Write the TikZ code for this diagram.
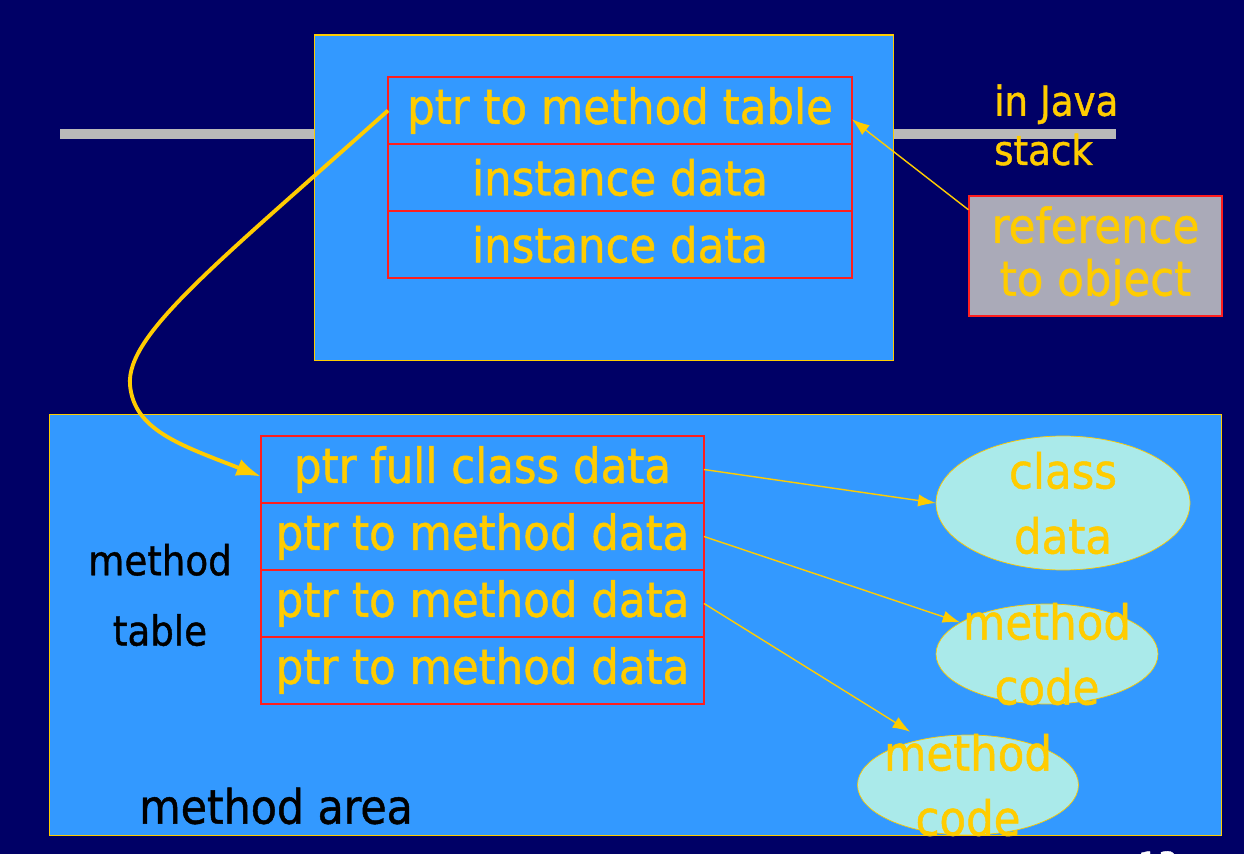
\documentclass[tikz,border=0pt]{standalone}
\usepackage{fontspec}
\setmainfont{DejaVu Sans}[FakeStretch=0.9,FakeBold=1]
\usetikzlibrary{positioning,arrows.meta,shapes.geometric}
\definecolor{fond}{RGB}{0,0,102}
\definecolor{bleu}{RGB}{51,153,255}
\definecolor{jaune}{RGB}{255,204,0}
\definecolor{rouge}{RGB}{255,30,30}
\definecolor{gris}{RGB}{170,170,184}
\definecolor{cyanpale}{RGB}{170,234,234}
\definecolor{barre}{RGB}{185,185,185}

\begin{document}
\begin{tikzpicture}[
    x=0.02cm, y=-0.02cm,
    >={Latex[length=10pt,width=7pt]},
    zone/.style={
      draw=jaune,
      fill=bleu,
      line width=0.6pt
    },
    case/.style={
      draw=rouge,
      line width=0.7pt,
      outer sep=0pt,
      minimum height=1.34cm,
      text=jaune,
      font=\fontsize{27.5}{31}\selectfont
    },
    haut/.style={case, minimum width=9.28cm},
    bas/.style={case, minimum width=8.86cm},
    bulle/.style={
      draw=jaune,
      fill=cyanpale,
      ellipse,
      inner sep=0pt
    },
    texte/.style={
      text=jaune,
      align=center,
      font=\fontsize{27.5}{37}\selectfont
    },
    noir/.style={
      text=black,
      align=center,
      font=\fontsize{23.5}{40}\selectfont
    },
    fleche/.style={->, draw=jaune, line width=0.8pt}
  ]
  \useasboundingbox (0,0) rectangle (1244,854);
  \clip (0,0) rectangle (1244,854);
  \fill[fond] (0,0) rectangle (1244,854);

  % pile
  \fill[barre] (60,129) rectangle (314,139);
  \fill[barre] (894,129) rectangle (1116,139);

  % objet
  \node[zone, minimum width=11.6cm, minimum height=6.52cm] (objet) at (604,198) {};
  \node[haut] (h1) at (620,110.5) {ptr to method table};
  \node[haut, below=0pt of h1] (h2) {instance data};
  \node[haut, below=0pt of h2] (h3) {instance data};

  \node[texte, align=left, anchor=west, font=\fontsize{23.5}{28}\selectfont]
    (pile) at (988,125) {in Java\\stack};
  \node[draw=rouge, fill=gris, line width=0.7pt, minimum width=5.06cm,
    minimum height=2.4cm, texte, font=\fontsize{27.5}{30}\selectfont]
    (ref) at (1095.5,256) {reference\\to object};
  \draw[fleche] (ref.160) -- ([yshift=-5pt]h1.east);

  % zone des methodes
  \node[zone, minimum width=23.46cm, minimum height=8.44cm] (zone) at (635.5,625) {};
  \node[bas] (m1) at (482.5,469.5) {ptr full class data};
  \node[bas, below=0pt of m1] (m2) {ptr to method data};
  \node[bas, below=0pt of m2] (m3) {ptr to method data};
  \node[bas, below=0pt of m3] (m4) {ptr to method data};

  \node[noir] (table) at (160,595) {method\\table};
  \node[noir, font=\fontsize{27}{31}\selectfont] (aire) at (276,806) {method area};

  \node[bulle, minimum width=5.08cm, minimum height=2.68cm] (cdata) at (1063,503) {};
  \node[texte] (tcdata) at (cdata) {class\\data};
  \node[bulle, minimum width=4.44cm, minimum height=2cm] (code1) at (1047,654) {};
  \node[texte] (tcode1) at (code1) {method\\code};
  \node[bulle, minimum width=4.42cm, minimum height=2cm] (code2) at (968,785) {};
  \node[texte] (tcode2) at (code2) {method\\code};

  \draw[fleche] (m1.east) -- (cdata.west);
  \draw[fleche] (m2.east) -- (code1.160);
  \draw[fleche, shorten >=8pt] (m3.east) -- (code2.135);

  \coordinate (coude) at (130,385);
  \draw[->, draw=jaune, line width=2.2pt, >={Latex[length=14pt,width=10pt]}]
    (h1.west) .. controls (215,265) and (126,335) .. (coude)
    .. controls (134,430) and (180,445) .. ([yshift=-4pt]m1.west);

  \node[text=white, font=\fontsize{20}{24}\selectfont, anchor=north] (page) at (1158,845) {13};
\end{tikzpicture}
\end{document}
